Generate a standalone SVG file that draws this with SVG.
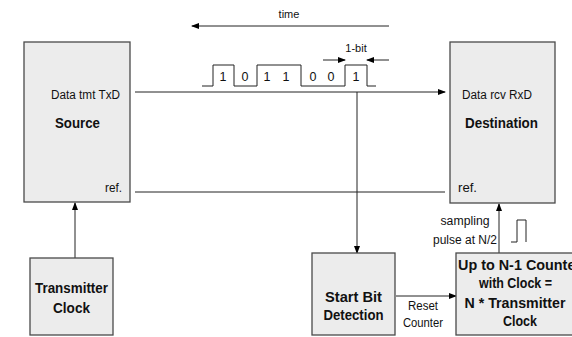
<svg xmlns="http://www.w3.org/2000/svg" width="572" height="337" viewBox="0 0 572 337">
  <defs>
    <marker id="arr" markerWidth="8" markerHeight="6" refX="7" refY="3" orient="auto" markerUnits="userSpaceOnUse">
      <path d="M0,0 L8,3 L0,6 Z" fill="#000"/>
    </marker>
    <style>
      .box { fill: #ececec; stroke: #4a4a4a; stroke-width: 1.3; }
      .ln { fill: none; stroke: #222; stroke-width: 1; }
      .t { font-family: "Liberation Sans", Arial, sans-serif; fill: #111; }
      .s { font-size: 12.5px; }
      .xs { font-size: 11px; }
      .b { font-size: 15.5px; font-weight: bold; }
    </style>
  </defs>
  <rect width="572" height="337" fill="#fff"/>

  <!-- connectors -->
  <g id="connectors">
    <!-- time direction -->
    <line class="ln" x1="389" y1="26" x2="192" y2="26" marker-end="url(#arr)"/>
    <!-- TxD to RxD data line -->
    <line class="ln" x1="135" y1="92" x2="445" y2="92" marker-end="url(#arr)"/>
    <!-- reference line -->
    <line class="ln" x1="135" y1="192" x2="445" y2="192"/>
    <!-- tap to start bit detection -->
    <line class="ln" x1="357" y1="92" x2="357" y2="253" marker-end="url(#arr)"/>
    <!-- transmitter clock to source -->
    <line class="ln" x1="75" y1="258" x2="75" y2="203" marker-end="url(#arr)"/>
    <!-- sampling pulse to destination -->
    <line class="ln" x1="499" y1="253" x2="499" y2="204" marker-end="url(#arr)"/>
    <!-- reset counter -->
    <line class="ln" x1="396" y1="296" x2="456" y2="296" marker-end="url(#arr)"/>
    <!-- 1-bit width markers -->
    <line class="ln" x1="323" y1="60" x2="345" y2="60" marker-end="url(#arr)"/>
    <line class="ln" x1="389" y1="60" x2="367" y2="60" marker-end="url(#arr)"/>
    <!-- serial waveform -->
    <polyline class="ln" points="202,86 213,86 213,65 234,65 234,86 257,86 257,65 301,65 301,86 345,86 345,65 367,65 367,86 376,86"/>
    <!-- sampling pulse symbol -->
    <polyline class="ln" points="511,242 517,242 517,220 526,220 526,242"/>
  </g>

  <text class="t xs" x="289" y="18" text-anchor="middle">time</text>
  <text class="t xs" x="356" y="52" text-anchor="middle">1-bit</text>
  <g class="t s" text-anchor="middle">
    <text x="223" y="81">1</text>
    <text x="245" y="81">0</text>
    <text x="267" y="81">1</text>
    <text x="286" y="81">1</text>
    <text x="313" y="81">0</text>
    <text x="331" y="81">0</text>
    <text x="356" y="81">1</text>
  </g>
  <g class="t s" text-anchor="middle">
    <text x="465" y="225" textLength="49" lengthAdjust="spacingAndGlyphs">sampling</text>
    <text x="465" y="244" textLength="64" lengthAdjust="spacingAndGlyphs">pulse at N/2</text>
    <text x="423" y="310" textLength="30" lengthAdjust="spacingAndGlyphs">Reset</text>
    <text x="423" y="327" textLength="40" lengthAdjust="spacingAndGlyphs">Counter</text>
  </g>

  <g id="source">
    <rect class="box" x="24" y="42" width="106" height="160"/>
    <text class="t s" x="51" y="99" textLength="69" lengthAdjust="spacingAndGlyphs">Data tmt TxD</text>
    <text class="t b" x="55" y="128" textLength="45" lengthAdjust="spacingAndGlyphs">Source</text>
    <text class="t s" x="105" y="192" textLength="17" lengthAdjust="spacingAndGlyphs">ref.</text>
  </g>

  <g id="destination">
    <rect class="box" x="450" y="42" width="105" height="161"/>
    <text class="t s" x="462" y="99" textLength="70" lengthAdjust="spacingAndGlyphs">Data rcv RxD</text>
    <text class="t b" x="465" y="128" textLength="73" lengthAdjust="spacingAndGlyphs">Destination</text>
    <text class="t s" x="458" y="192" textLength="19" lengthAdjust="spacingAndGlyphs">ref.</text>
  </g>

  <g id="transmitter-clock">
    <rect class="box" x="30" y="258" width="83" height="77"/>
    <text class="t b" x="71.5" y="293" text-anchor="middle" textLength="73" lengthAdjust="spacingAndGlyphs">Transmitter</text>
    <text class="t b" x="71.5" y="313" text-anchor="middle" textLength="37" lengthAdjust="spacingAndGlyphs">Clock</text>
  </g>

  <g id="start-bit-detection">
    <rect class="box" x="312" y="253" width="83" height="82"/>
    <text class="t b" x="353.5" y="302" text-anchor="middle" textLength="57" lengthAdjust="spacingAndGlyphs">Start Bit</text>
    <text class="t b" x="353.5" y="320" text-anchor="middle" textLength="60" lengthAdjust="spacingAndGlyphs">Detection</text>
  </g>

  <g id="counter">
    <rect class="box" x="456" y="253" width="124" height="82"/>
    <text class="t b" x="458" y="270" textLength="123" lengthAdjust="spacingAndGlyphs">Up to N-1 Counter</text>
    <text class="t b" x="515.5" y="288" text-anchor="middle" textLength="73" lengthAdjust="spacingAndGlyphs">with Clock =</text>
    <text class="t b" x="515" y="308" text-anchor="middle" textLength="101" lengthAdjust="spacingAndGlyphs">N * Transmitter</text>
    <text class="t b" x="520" y="326" text-anchor="middle" textLength="34" lengthAdjust="spacingAndGlyphs">Clock</text>
  </g>
</svg>
